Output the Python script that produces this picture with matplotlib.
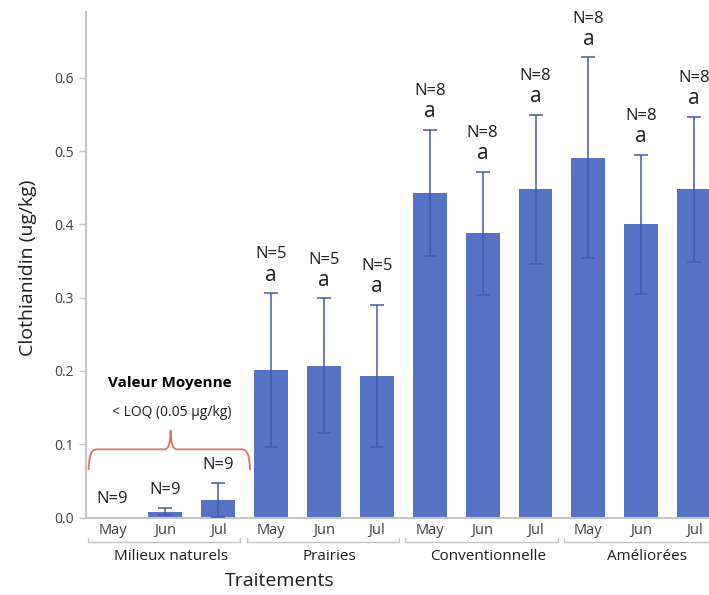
import matplotlib.pyplot as plt
import matplotlib.transforms as mtransforms
from matplotlib.path import Path
from matplotlib.patches import PathPatch
import numpy as np

plt.rcParams['font.family'] = ['Open Sans', 'DejaVu Sans']

groups = ["Milieux naturels", "Prairies", "Conventionnelle", "Améliorées"]
months = ["May", "Jun", "Jul"]
means = [0.0, 0.008, 0.024, 0.201, 0.207, 0.193, 0.443, 0.388, 0.448, 0.491, 0.400, 0.448]
errs = [0.0, 0.005, 0.023, 0.105, 0.092, 0.097, 0.086, 0.084, 0.102, 0.137, 0.095, 0.099]
n_obs = [9, 9, 9, 5, 5, 5, 8, 8, 8, 8, 8, 8]
letters = ["", "", "", "a", "a", "a", "a", "a", "a", "a", "a", "a"]

bar_color = "#5572C4"
err_color = "#3F5AAA"
grey = "#C4C4C4"
txt = "#1E1E1E"

x = np.arange(len(means))
fig = plt.figure(figsize=(7.09, 5.95), dpi=100)
ax = fig.add_axes([86 / 709, 1 - 517.5 / 595, 1 - 86 / 709, (517.5 - 12) / 595])

ax.bar(x, means, width=0.64, color=bar_color, zorder=2)
for xi, m, e in zip(x, means, errs):
    if e > 0:
        ax.errorbar(xi, m, yerr=e, fmt="none", ecolor=err_color, elinewidth=1.1,
                    capsize=5, capthick=1.1, zorder=3)

# N= and letter labels above each bar
for xi, m, e, n, let in zip(x, means, errs, n_obs, letters):
    top = m + e
    if let:
        ax.annotate(let, (xi, top), xytext=(0, 13), textcoords="offset points",
                    ha="center", va="center", fontsize=15, color=txt)
        ax.annotate(f"N={n}", (xi, top), xytext=(0, 28), textcoords="offset points",
                    ha="center", va="center", fontsize=12, color=txt)
    else:
        ax.annotate(f"N={n}", (xi, top), xytext=(0, 13), textcoords="offset points",
                    ha="center", va="center", fontsize=12, color=txt)

ax.set_xlim(-0.5, 11.28)
ax.set_ylim(0, 0.69)
ax.set_yticks([0.0, 0.1, 0.2, 0.3, 0.4, 0.5, 0.6])
ax.set_yticklabels([f"{v:.1f}" for v in [0.0, 0.1, 0.2, 0.3, 0.4, 0.5, 0.6]])
ax.set_xticks(x)
ax.set_xticklabels(months * len(groups))
ax.tick_params(axis="y", length=5, width=1, color=grey, labelsize=10, labelcolor="#404040", pad=4)
ax.tick_params(axis="x", length=0, labelsize=10.5, labelcolor="#404040", pad=4)
for s in ["top", "right"]:
    ax.spines[s].set_visible(False)
for s in ["left", "bottom"]:
    ax.spines[s].set_color(grey)
    ax.spines[s].set_linewidth(1.5)

# group brackets and names under the month labels
trans = mtransforms.blended_transform_factory(ax.transData, ax.transAxes)
for gi, g in enumerate(groups):
    x0 = gi * 3 - 0.46
    x1 = gi * 3 + 2.42
    ax.plot([x0, x0, x1, x1], [-0.041, -0.048, -0.048, -0.041], color=grey, lw=1,
            transform=trans, clip_on=False)
    ax.text(gi * 3 + 1.1, -0.078, g, transform=trans, ha="center", va="center",
            fontsize=11, color=txt)

# red brace over the natural habitats group
xl, xr, xc = -0.45, 2.6, 1.1
yb, ym, yt = 0.065, 0.093, 0.119
verts = [(xl, yb), (xl, ym), (xl + 0.15, ym), (xc - 0.12, ym), (xc, ym), (xc, yt),
         (xc, ym), (xc + 0.12, ym), (xr - 0.15, ym), (xr, ym), (xr, yb)]
codes = [Path.MOVETO, Path.CURVE3, Path.CURVE3, Path.LINETO, Path.CURVE3, Path.CURVE3,
         Path.CURVE3, Path.CURVE3, Path.LINETO, Path.CURVE3, Path.CURVE3]
ax.add_patch(PathPatch(Path(verts, codes), fill=False, edgecolor="#E2705E", lw=1.3,
                       clip_on=False, zorder=4))
ax.text(1.09, 0.183, "Valeur Moyenne", ha="center", va="center", fontsize=11,
        fontweight="bold", color="black")
ax.text(1.12, 0.144, "< LOQ (0.05 µg/kg)", ha="center", va="center", fontsize=10,
        color=txt)

fig.text(280 / 709, 1 - 581 / 595, "Traitements", ha="center", va="center",
         fontsize=14, color=txt)
fig.text(28 / 709, 1 - 268 / 595, "Clothianidin (ug/kg)", ha="center", va="center",
         rotation=90, fontsize=14, color=txt)

fig.savefig("out.png", dpi=100)
